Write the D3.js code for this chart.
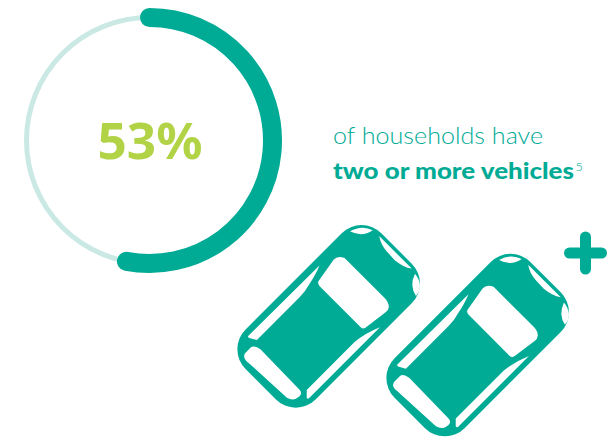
<!DOCTYPE html>
<html>
<head>
<meta charset="utf-8">
<script src="https://cdn.jsdelivr.net/npm/d3@7"></script>
<style>
html,body{margin:0;padding:0;background:#fff}
svg{display:block}
text{font-family:Lato,sans-serif}
</style>
</head>
<body>
<svg id="chart" width="612" height="438"></svg>
<script>
// Share of households with two or more vehicles
const shareValue = [53];
const shareLabel = ["53%"];
const captionLines = ["of households have", "two or more vehicles"];
const footnoteMark = ["5"];

const TEAL = "#00ab96", PALE = "#cbe9e4", LIME = "#b1d345";
const svg = d3.select("#chart");

// Ring: pale full track with the share drawn on top as an open arc
const ring = svg.append("g").attr("transform", "translate(149.5,140.5)");
const angle = d3.scaleLinear().domain([0, 100]).range([-Math.PI / 2, 1.5 * Math.PI]);
const R = 123;
ring.append("circle").attr("r", R).attr("fill", "none").attr("stroke", PALE).attr("stroke-width", 5);
const openArc = v => {
  const p = d3.path();
  p.arc(0, 0, R, angle(0), angle(v));
  return p.toString();
};
ring.selectAll("path.share").data(shareValue).join("path").attr("class", "share")
  .attr("d", openArc)
  .attr("fill", "none").attr("stroke", TEAL).attr("stroke-width", 19).attr("stroke-linecap", "round");

svg.selectAll("text.big").data(shareLabel).join("text").attr("class", "big")
  .attr("x", 150).attr("y", 159).attr("text-anchor", "middle")
  .style("font-family", "'Noto Sans',sans-serif")
  .attr("font-size", 50).attr("font-weight", 700).attr("fill", LIME)
  .attr("textLength", 105).attr("lengthAdjust", "spacingAndGlyphs").text(d => d);

// Caption
svg.append("text").attr("x", 333).attr("y", 144).attr("font-size", 23.5).attr("font-weight", 300)
  .attr("fill", TEAL).attr("textLength", 210).attr("lengthAdjust", "spacingAndGlyphs").text(captionLines[0]);
svg.append("text").attr("x", 333).attr("y", 179).attr("font-size", 23.5).attr("font-weight", 900)
  .attr("fill", TEAL).attr("textLength", 241).attr("lengthAdjust", "spacingAndGlyphs").text(captionLines[1]);
svg.append("text").attr("x", 575.5).attr("y", 171).attr("font-size", 12.5).attr("font-weight", 300)
  .attr("fill", TEAL).text(footnoteMark[0]);

// Car seen from above, nose pointing along +x, rotated into place
const glass = [
  "M18,-32 L44,-36.5 Q50,-37 53,-30 L53,26 Q53,33 49.5,36 Q47,38 44,37.5 L18.5,34 Q15,33 15.5,30 L15.5,-27 Q15.5,-31 18,-32 Z",
  "M30,-42.5 L-70,-43 Q-71.5,-43 -71,-41 L-67,-34 L-7,-34 Q2,-34 10,-36.5 Q22,-39 30,-42.5 Z",
  "M29,44 Q15,38 1,36.5 L-67,36.5 L-72.5,42 Q-73,44 -71,44 Z",
  "M-71,-25 L-72,31 Q-72,36 -77,36 L-81,35 Q-85,33.5 -86.5,28 L-89,-24 Q-90,-31.5 -85,-33 L-76,-33 Q-72,-32 -71,-25 Z",
  "M75.7,-45 Q88.9,-41.3 92.5,-29.7 Q79.7,-31.9 75.7,-45 Z",
  "M93,-21 L93,25 Q88,18 87,7 L87.5,-5 Q88,-14 93,-21 Z",
  "M91.7,30.9 Q79,35.25 76.6,47.4 Q89.85,46.05 91.7,30.9 Z"
];
const cars = [[328.3, 316.7], [477.3, 345.4]];
const carGroups = svg.selectAll("g.car").data(cars).join("g").attr("class", "car")
  .attr("transform", d => `translate(${d[0]},${d[1]}) rotate(-45)`);
carGroups.append("rect").attr("x", -95.5).attr("y", -49.5).attr("width", 192).attr("height", 99)
  .attr("rx", 28).attr("fill", TEAL);
carGroups.selectAll("path").data(glass).join("path").attr("d", d => d).attr("fill", "#fff");

// Plus sign beside the second car
const plus = svg.append("g").attr("transform", "translate(585.5,253)")
  .attr("stroke", TEAL).attr("stroke-width", 11).attr("stroke-linecap", "round");
plus.append("line").attr("x1", -16).attr("x2", 16);
plus.append("line").attr("y1", -16).attr("y2", 16);
</script>
</body>
</html>
